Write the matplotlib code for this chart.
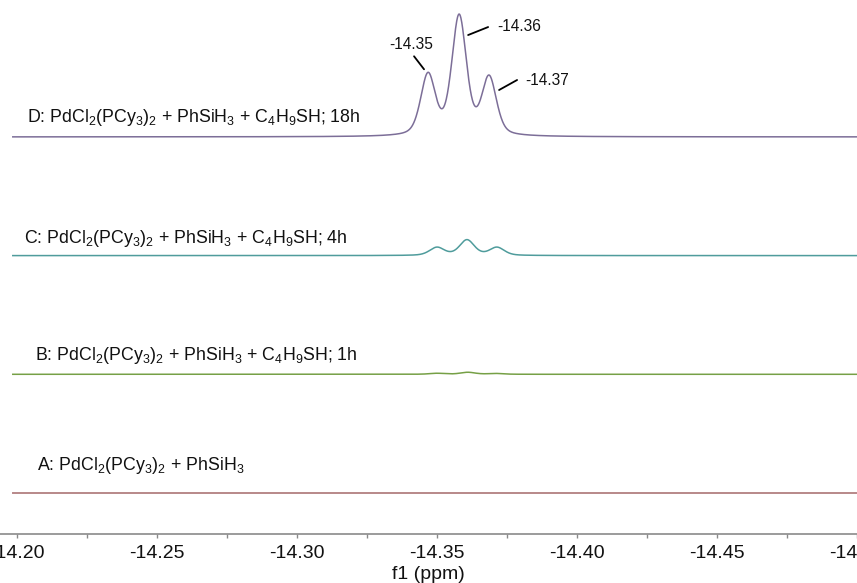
import numpy as np
import matplotlib
matplotlib.use("Agg")
import matplotlib.pyplot as plt
from matplotlib.ticker import MultipleLocator, FormatStrFormatter
from matplotlib.transforms import offset_copy

plt.rcParams["font.family"] = ["Liberation Sans", "DejaVu Sans"]
plt.rcParams["mathtext.fontset"] = "custom"
plt.rcParams["mathtext.rm"] = "Liberation Sans"
plt.rcParams["mathtext.it"] = "Liberation Sans"

# Spectrum labels, bottom to top
labels = [
    r"A: PdCl$_2$(PCy$_3$)$_2$ + PhSiH$_3$",
    r"B: PdCl$_2$(PCy$_3$)$_2$ + PhSiH$_3$ + C$_4$H$_9$SH; 1h",
    r"C: PdCl$_2$(PCy$_3$)$_2$ + PhSiH$_3$ + C$_4$H$_9$SH; 4h",
    r"D: PdCl$_2$(PCy$_3$)$_2$ + PhSiH$_3$ + C$_4$H$_9$SH; 18h",
]
colors = ["#a4686a", "#76a046", "#4f9c9c", "#7c6e98"]

# Peak lists (ppm) and intensities of the Si-H triplet in each spectrum
peaks_A = [-14.350, -14.361, -14.371]
heights_A = [0.0, 0.0, 0.0]
peaks_B = [-14.350, -14.361, -14.371]
heights_B = [1.0, 2.0, 0.8]
peaks_C = [-14.350, -14.3607, -14.3714]
heights_C = [8.0, 15.5, 8.0]
peaks_D = [-14.3468, -14.3579, -14.3686]
heights_D = [60.7, 119.3, 57.7]
linewidth_ppm = 0.0062
lorentz_fraction = 0.4

# Labelled peak shifts (spectrum D)
shift_labels = ["-14.35", "-14.36", "-14.37"]

peak_sets = [(peaks_A, heights_A), (peaks_B, heights_B),
             (peaks_C, heights_C), (peaks_D, heights_D)]

x_left, x_right = -14.19393, -14.500
x = np.linspace(-14.1985, x_right, 3000)


def line_shape(xx, centers, amps, w, eta=lorentz_fraction):
    """Sum of pseudo-Voigt lines with full width at half maximum w."""
    y = np.zeros_like(xx, dtype=float)
    for c, a in zip(centers, amps):
        d = (xx - c) / w
        lor = 1.0 / (1.0 + 4.0 * d ** 2)
        gau = np.exp(-4.0 * np.log(2.0) * d ** 2)
        y += a * (eta * lor + (1.0 - eta) * gau)
    return y


W, H = 857, 583
fig = plt.figure(figsize=(W / 100, H / 100), dpi=100)
ax = fig.add_axes([0.0, (H - 534) / H, 1.0, 534 / H])

base, step = 41.0, 118.7
label_x = [-14.2071, -14.2064, -14.2025, -14.2036]
label_dy = [27, 19, 17, 19]
for i, ((pk, hs), lab, col) in enumerate(zip(peak_sets, labels, colors)):
    off = base + i * step
    ax.plot(x, off + line_shape(x, pk, hs, linewidth_ppm), color=col, lw=1.1)
    ax.text(label_x[i], off + label_dy[i], lab, fontsize=12.75, color="#111111",
            ha="left", va="center")

# Peak annotations on spectrum D (pixel offsets from the apex, y up)
annots = [
    ((-4, 3), (-14, 16), (-17, 28), "center"),
    ((9, -21), (29, -13), (38, -12), "left"),
    ((10, -15), (28, -5), (36, -5), "left"),
]
offD = base + 3 * step
for pk, lab, (p1, p2, pt, ha) in zip(peaks_D, shift_labels, annots):
    apex = offD + line_shape(np.array([pk]), peaks_D, heights_D, linewidth_ppm)[0]
    t1 = offset_copy(ax.transData, fig=fig, x=p1[0], y=p1[1], units="dots")
    t2 = offset_copy(ax.transData, fig=fig, x=p2[0], y=p2[1], units="dots")
    ax.annotate("", xy=(pk, apex), xycoords=t1, xytext=(pk, apex), textcoords=t2,
                arrowprops=dict(arrowstyle="-", color="black", lw=1.3,
                                shrinkA=0, shrinkB=0))
    tt = offset_copy(ax.transData, fig=fig, x=pt[0], y=pt[1], units="dots")
    ax.text(pk, apex, lab, transform=tt, fontsize=11.2, ha=ha, va="center",
            color="#111111")

ax.set_xlim(x_left, x_right)
ax.set_ylim(0, 534)
for s in ["top", "left", "right"]:
    ax.spines[s].set_visible(False)
ax.spines["bottom"].set_color("#8a8a8a")
ax.spines["bottom"].set_linewidth(1.2)
ax.set_yticks([])
ax.xaxis.set_major_locator(MultipleLocator(0.05))
ax.xaxis.set_minor_locator(MultipleLocator(0.025))
ax.xaxis.set_major_formatter(FormatStrFormatter("%.2f"))
ax.tick_params(axis="x", which="both", direction="out", length=3, width=1,
               color="#8a8a8a", labelsize=14, labelcolor="#111111", pad=5)
ax.set_xlabel("f1 (ppm)", fontsize=14, color="#111111", labelpad=3)

fig.savefig("out.png", dpi=100)
